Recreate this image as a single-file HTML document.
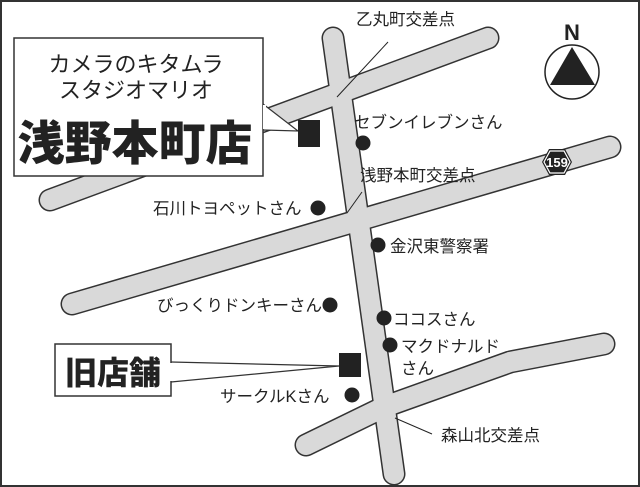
<!DOCTYPE html>
<html><head><meta charset="utf-8"><style>
html,body{margin:0;padding:0;background:#fff}
svg{display:block}
text{font-family:"Liberation Sans","Noto Sans CJK JP",sans-serif;fill:#222}
</style></head><body>
<svg width="640" height="487" viewBox="0 0 640 487" xmlns="http://www.w3.org/2000/svg">
<rect x="1" y="1" width="638" height="485" fill="#fff" stroke="#333" stroke-width="2"/>
<g fill="none" stroke-linecap="round" stroke-linejoin="round">
<g stroke="#333" stroke-width="23">
<path d="M50 200 L488 38"/>
<path d="M72 304 L610 147"/>
<path d="M306 445 L384 407 L510 362 L604 344"/>
<path d="M333 38 L394 474"/>
</g>
<g stroke="#d9d9d9" stroke-width="20">
<path d="M50 200 L488 38"/>
<path d="M72 304 L610 147"/>
<path d="M306 445 L384 407 L510 362 L604 344"/>
<path d="M333 38 L394 474"/>
</g>
</g>
<path d="M263 104 L298 131 L263 130" fill="#fff" stroke="#333" stroke-width="1.2"/>
<rect x="14" y="38" width="249" height="138" fill="#fff" stroke="#333" stroke-width="1.5"/>
<rect x="263" y="105" width="3" height="24" fill="#fff"/>
<text x="136" y="72" font-size="22" text-anchor="middle">カメラのキタムラ</text>
<text x="136" y="98" font-size="22" text-anchor="middle">スタジオマリオ</text>
<text x="135" y="160" font-size="47" text-anchor="middle" style="font-family:'Noto Sans CJK JP',sans-serif;font-weight:900">浅野本町店</text>
<rect x="298" y="120" width="22" height="27" fill="#222"/>
<path d="M171 362 L339 366 L171 382" fill="#fff" stroke="#333" stroke-width="1.2"/>
<rect x="55" y="344" width="116" height="52" fill="#fff" stroke="#333" stroke-width="1.5"/>
<rect x="170" y="363" width="3" height="18" fill="#fff"/>
<text x="113" y="384" font-size="32" text-anchor="middle" style="font-family:'Noto Sans CJK JP',sans-serif;font-weight:900">旧店舗</text>
<rect x="339" y="353" width="22" height="24" fill="#222"/>
<g stroke="#222" stroke-width="1">
<line x1="388" y1="42" x2="337" y2="97"/>
<line x1="362" y1="192" x2="347" y2="213"/>
<line x1="395" y1="418" x2="432" y2="434"/>
</g>
<g font-size="16.5">
<text x="356" y="25">乙丸町交差点</text>
<text x="354" y="128">セブンイレブンさん</text>
<text x="360" y="181">浅野本町交差点</text>
<text x="153" y="214">石川トヨペットさん</text>
<text x="390" y="252">金沢東警察署</text>
<text x="157" y="311">びっくりドンキーさん</text>
<text x="393" y="325">ココスさん</text>
<text x="401" y="352">マクドナルド</text>
<text x="401" y="374">さん</text>
<text x="220" y="402">サークルKさん</text>
<text x="441" y="441">森山北交差点</text>
</g>
<g fill="#222">
<circle cx="363" cy="143" r="7.5"/>
<circle cx="318" cy="208" r="7.5"/>
<circle cx="378" cy="245" r="7.5"/>
<circle cx="330" cy="305" r="7.5"/>
<circle cx="384" cy="318" r="7.5"/>
<circle cx="390" cy="345" r="7.5"/>
<circle cx="352" cy="395" r="7.5"/>
</g>
<polygon points="542,162 549,149 565,149 572,162 565,175 549,175" fill="#222"/>
<polygon points="544,162 550,151 564,151 570,162 564,173 550,173" fill="#222" stroke="#fff" stroke-width="1.2"/>
<text x="557" y="167" font-size="13" font-weight="bold" text-anchor="middle" style="fill:#fff">159</text>
<text x="572" y="40" font-size="22" font-weight="bold" text-anchor="middle">N</text>
<circle cx="572" cy="72" r="27" fill="#fff" stroke="#222" stroke-width="1.5"/>
<polygon points="572,47 550,85 595,85" fill="#222"/>
</svg>
</body></html>
